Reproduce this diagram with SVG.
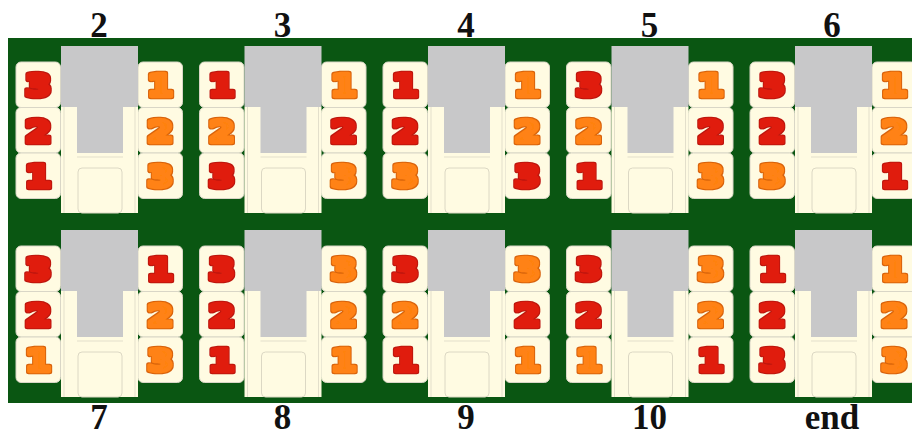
<svg xmlns="http://www.w3.org/2000/svg" xmlns:xlink="http://www.w3.org/1999/xlink" width="912" height="437" viewBox="0 0 912 437">
<style>
.lbl{font-family:"Liberation Serif","Times New Roman",serif;font-weight:bold;font-size:35px;fill:#111;text-anchor:middle}
.d{font-family:"DejaVu Sans",sans-serif;font-weight:bold;font-size:30px;stroke-width:4.5;stroke-linejoin:round;text-anchor:middle;filter:url(#bub)}
.r{fill:#e01e10;stroke:#e01e10}
.o{fill:#ff8212;stroke:#ff8212}
.tile{fill:#fffbe2;stroke:#d9d6c6;stroke-width:1}
.gray{fill:#c8c8c9}
.cream{fill:#fffbe2}
.seam{fill:none;stroke:#e3dfcb;stroke-width:1}
</style>
<defs>
<filter id="bub" x="-20%" y="-20%" width="140%" height="140%">
<feMorphology in="SourceGraphic" operator="dilate" radius="1.1" result="fat"/>
<feColorMatrix in="fat" type="matrix" values="0.68 0 0 0 0  0 0.55 0 0 0  0 0 0.55 0 0  0 0 0 1 0" result="ring"/>
<feMerge><feMergeNode in="ring"/><feMergeNode in="SourceGraphic"/></feMerge>
</filter>
<g id="rack">
<rect class="tile" x="-45" y="16" width="44.5" height="45.5" rx="5"/>
<rect class="tile" x="-45" y="61.5" width="44.5" height="45.5" rx="5"/>
<rect class="tile" x="-45" y="107" width="44.5" height="45.5" rx="5"/>
<rect class="tile" x="77" y="16" width="44.5" height="45.5" rx="5"/>
<rect class="tile" x="77" y="61.5" width="44.5" height="45.5" rx="5"/>
<rect class="tile" x="77" y="107" width="44.5" height="45.5" rx="5"/>
<rect class="gray" x="0" y="0" width="77" height="61"/>
<rect class="cream" x="0" y="61" width="77" height="106"/>
<rect class="gray" x="16" y="61" width="46" height="46"/>
<path class="seam" d="M3,61V167M74,61V167M16,111H62"/>
<rect class="cream" x="17" y="122" width="44" height="45" rx="4" stroke="#dcd8c4" stroke-width="1"/>
</g>
</defs>
<rect x="8" y="38" width="904" height="365" fill="#0a5612"/>
<g id="connectors"></g>

<g id="rack-2" transform="translate(61,46)">
<use xlink:href="#rack"/>
<text class="d r" transform="translate(-22.75,50) scale(1.22,1)">3</text>
<text class="d r" transform="translate(-22.75,95.5) scale(1.22,1)">2</text>
<text class="d r" transform="translate(-22.75,141) scale(1.22,1)">1</text>
<text class="d o" transform="translate(99.25,50) scale(1.22,1)">1</text>
<text class="d o" transform="translate(99.25,95.5) scale(1.22,1)">2</text>
<text class="d o" transform="translate(99.25,141) scale(1.22,1)">3</text>
</g>
<g id="rack-3" transform="translate(244.5,46)">
<use xlink:href="#rack"/>
<text class="d r" transform="translate(-22.75,50) scale(1.22,1)">1</text>
<text class="d o" transform="translate(-22.75,95.5) scale(1.22,1)">2</text>
<text class="d r" transform="translate(-22.75,141) scale(1.22,1)">3</text>
<text class="d o" transform="translate(99.25,50) scale(1.22,1)">1</text>
<text class="d r" transform="translate(99.25,95.5) scale(1.22,1)">2</text>
<text class="d o" transform="translate(99.25,141) scale(1.22,1)">3</text>
</g>
<g id="rack-4" transform="translate(428,46)">
<use xlink:href="#rack"/>
<text class="d r" transform="translate(-22.75,50) scale(1.22,1)">1</text>
<text class="d r" transform="translate(-22.75,95.5) scale(1.22,1)">2</text>
<text class="d o" transform="translate(-22.75,141) scale(1.22,1)">3</text>
<text class="d o" transform="translate(99.25,50) scale(1.22,1)">1</text>
<text class="d o" transform="translate(99.25,95.5) scale(1.22,1)">2</text>
<text class="d r" transform="translate(99.25,141) scale(1.22,1)">3</text>
</g>
<g id="rack-5" transform="translate(611.5,46)">
<use xlink:href="#rack"/>
<text class="d r" transform="translate(-22.75,50) scale(1.22,1)">3</text>
<text class="d o" transform="translate(-22.75,95.5) scale(1.22,1)">2</text>
<text class="d r" transform="translate(-22.75,141) scale(1.22,1)">1</text>
<text class="d o" transform="translate(99.25,50) scale(1.22,1)">1</text>
<text class="d r" transform="translate(99.25,95.5) scale(1.22,1)">2</text>
<text class="d o" transform="translate(99.25,141) scale(1.22,1)">3</text>
</g>
<g id="rack-6" transform="translate(795,46)">
<use xlink:href="#rack"/>
<text class="d r" transform="translate(-22.75,50) scale(1.22,1)">3</text>
<text class="d r" transform="translate(-22.75,95.5) scale(1.22,1)">2</text>
<text class="d o" transform="translate(-22.75,141) scale(1.22,1)">3</text>
<text class="d o" transform="translate(99.25,50) scale(1.22,1)">1</text>
<text class="d o" transform="translate(99.25,95.5) scale(1.22,1)">2</text>
<text class="d r" transform="translate(99.25,141) scale(1.22,1)">1</text>
</g>

<g id="rack-7" transform="translate(61,230)">
<use xlink:href="#rack"/>
<text class="d r" transform="translate(-22.75,50) scale(1.22,1)">3</text>
<text class="d r" transform="translate(-22.75,95.5) scale(1.22,1)">2</text>
<text class="d o" transform="translate(-22.75,141) scale(1.22,1)">1</text>
<text class="d r" transform="translate(99.25,50) scale(1.22,1)">1</text>
<text class="d o" transform="translate(99.25,95.5) scale(1.22,1)">2</text>
<text class="d o" transform="translate(99.25,141) scale(1.22,1)">3</text>
</g>
<g id="rack-8" transform="translate(244.5,230)">
<use xlink:href="#rack"/>
<text class="d r" transform="translate(-22.75,50) scale(1.22,1)">3</text>
<text class="d r" transform="translate(-22.75,95.5) scale(1.22,1)">2</text>
<text class="d r" transform="translate(-22.75,141) scale(1.22,1)">1</text>
<text class="d o" transform="translate(99.25,50) scale(1.22,1)">3</text>
<text class="d o" transform="translate(99.25,95.5) scale(1.22,1)">2</text>
<text class="d o" transform="translate(99.25,141) scale(1.22,1)">1</text>
</g>
<g id="rack-9" transform="translate(428,230)">
<use xlink:href="#rack"/>
<text class="d r" transform="translate(-22.75,50) scale(1.22,1)">3</text>
<text class="d o" transform="translate(-22.75,95.5) scale(1.22,1)">2</text>
<text class="d r" transform="translate(-22.75,141) scale(1.22,1)">1</text>
<text class="d o" transform="translate(99.25,50) scale(1.22,1)">3</text>
<text class="d r" transform="translate(99.25,95.5) scale(1.22,1)">2</text>
<text class="d o" transform="translate(99.25,141) scale(1.22,1)">1</text>
</g>
<g id="rack-10" transform="translate(611.5,230)">
<use xlink:href="#rack"/>
<text class="d r" transform="translate(-22.75,50) scale(1.22,1)">3</text>
<text class="d r" transform="translate(-22.75,95.5) scale(1.22,1)">2</text>
<text class="d o" transform="translate(-22.75,141) scale(1.22,1)">1</text>
<text class="d o" transform="translate(99.25,50) scale(1.22,1)">3</text>
<text class="d o" transform="translate(99.25,95.5) scale(1.22,1)">2</text>
<text class="d r" transform="translate(99.25,141) scale(1.22,1)">1</text>
</g>
<g id="rack-end" transform="translate(795,230)">
<use xlink:href="#rack"/>
<text class="d r" transform="translate(-22.75,50) scale(1.22,1)">1</text>
<text class="d r" transform="translate(-22.75,95.5) scale(1.22,1)">2</text>
<text class="d r" transform="translate(-22.75,141) scale(1.22,1)">3</text>
<text class="d o" transform="translate(99.25,50) scale(1.22,1)">1</text>
<text class="d o" transform="translate(99.25,95.5) scale(1.22,1)">2</text>
<text class="d o" transform="translate(99.25,141) scale(1.22,1)">3</text>
</g>

<g id="labels">
<text class="lbl" x="99" y="37">2</text>
<text class="lbl" x="282.5" y="37">3</text>
<text class="lbl" x="466" y="37">4</text>
<text class="lbl" x="649.5" y="37">5</text>
<text class="lbl" x="832" y="37">6</text>
<text class="lbl" x="99" y="429">7</text>
<text class="lbl" x="282.5" y="429">8</text>
<text class="lbl" x="466" y="429">9</text>
<text class="lbl" x="649.5" y="429">10</text>
<text class="lbl" x="832" y="429">end</text>
</g>
</svg>
